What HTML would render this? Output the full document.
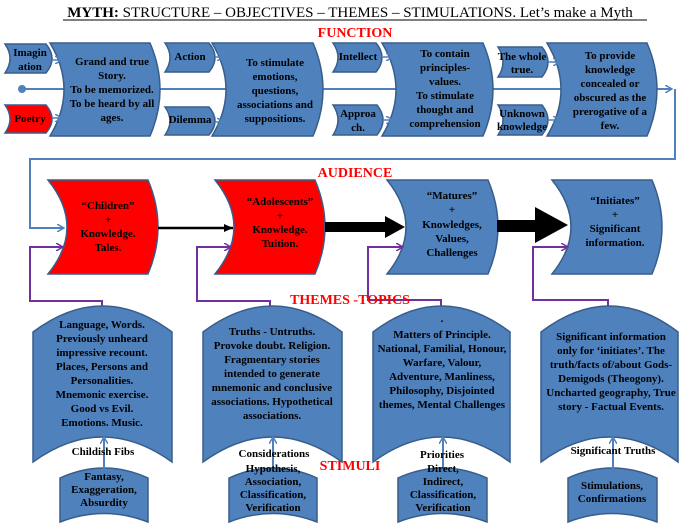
<!DOCTYPE html>
<html><head><meta charset="utf-8"><style>
html,body{margin:0;padding:0;background:#fff;}
svg{display:block;font-family:"Liberation Serif",serif;font-weight:bold;}
.b{fill:#4f81bd;stroke:#385d8a;stroke-width:1.5}
.r{fill:#ff0000;stroke:#385d8a;stroke-width:1.5}
text{font-size:11px;text-anchor:middle;fill:#000}
.red{fill:#ff0000;font-size:14px}
</style></head><body>
<svg width="700" height="525" viewBox="0 0 700 525">
<defs>
<marker id="ab" markerWidth="8" markerHeight="8" refX="7" refY="4" orient="auto" markerUnits="userSpaceOnUse"><path d="M0,0 L7,4 L0,8" fill="none" stroke="#4f81bd" stroke-width="1.5"/></marker>
<marker id="ap" markerWidth="8" markerHeight="8" refX="7" refY="4" orient="auto" markerUnits="userSpaceOnUse"><path d="M0,0 L7,4 L0,8" fill="none" stroke="#7030a0" stroke-width="1.5"/></marker>
<marker id="ak" markerWidth="10" markerHeight="10" refX="9" refY="5" orient="auto" markerUnits="userSpaceOnUse"><path d="M0,1 L9,5 L0,9 Z" fill="#000"/></marker>
</defs>
<text x="350" y="17" style="font-size:15px;font-weight:normal"><tspan font-weight="bold">MYTH:</tspan> STRUCTURE – OBJECTIVES – THEMES – STIMULATIONS. Let’s make a Myth</text>
<line x1="63" y1="20" x2="647" y2="20" stroke="#000" stroke-width="1"/>
<text class="red" x="355" y="37">FUNCTION</text>

<circle cx="22" cy="89" r="4" fill="#4f81bd"/>
<polyline points="22,89 672,89" fill="none" stroke="#4f81bd" stroke-width="2" marker-end="url(#ab)"/>
<polyline points="675,89 675,159 30,159 30,228 64,228" fill="none" stroke="#4f81bd" stroke-width="2" marker-end="url(#ab)"/>

<path class="b" d="M50,43 L150,43 Q170,89.5 150,136 L50,136 Q78,89.5 50,43Z"/>
<path class="b" d="M212,43 L313,43 Q333,89.5 313,136 L212,136 Q240,89.5 212,43Z"/>
<path class="b" d="M382,43 L483,43 Q503,89.5 483,136 L382,136 Q410,89.5 382,43Z"/>
<path class="b" d="M547,43 L647,43 Q667,89.5 647,136 L547,136 Q575,89.5 547,43Z"/>
<path class="b" d="M5,44 L46,44 Q58,58.5 46,73 L5,73 Q15,58.5 5,44Z"/>
<path class="r" d="M5,105 L46,105 Q58,119 46,133 L5,133 Q15,119 5,105Z"/>
<path class="b" d="M165,43 L209,43 Q221,57.5 209,72 L165,72 Q175,57.5 165,43Z"/>
<path class="b" d="M165,107 L209,107 Q221,121 209,135 L165,135 Q175,121 165,107Z"/>
<path class="b" d="M333,43 L376,43 Q388,57.5 376,72 L333,72 Q343,57.5 333,43Z"/>
<path class="b" d="M333,105 L377,105 Q389,120 377,135 L333,135 Q343,120 333,105Z"/>
<path class="b" d="M498,47 L542,47 Q554,62 542,77 L498,77 Q508,62 498,47Z"/>
<path class="b" d="M498,105 L542,105 Q554,120 542,135 L498,135 Q508,120 498,105Z"/>
<g stroke="#4f81bd" stroke-width="1.5" fill="none">
<line x1="52" y1="60" x2="62" y2="60" marker-end="url(#ab)"/>
<line x1="52" y1="118" x2="62" y2="118" marker-end="url(#ab)"/>
<line x1="215" y1="57" x2="224" y2="57" marker-end="url(#ab)"/>
<line x1="215" y1="122" x2="224" y2="122" marker-end="url(#ab)"/>
<line x1="383" y1="57" x2="393" y2="57" marker-end="url(#ab)"/>
<line x1="383" y1="120" x2="393" y2="120" marker-end="url(#ab)"/>
<line x1="548" y1="62" x2="560" y2="62" marker-end="url(#ab)"/>
<line x1="548" y1="120" x2="560" y2="120" marker-end="url(#ab)"/>
</g>
<text x="30" y="56">Imagin</text><text x="30" y="70">ation</text>
<text x="30" y="122">Poetry</text>
<text x="190" y="60">Action</text>
<text x="190" y="123">Dilemma</text>
<text x="358" y="60">Intellect</text>
<text x="358" y="117">Approa</text><text x="358" y="131">ch.</text>
<text x="522" y="60">The whole</text><text x="522" y="73">true.</text>
<text x="522" y="117">Unknown</text><text x="522" y="130">knowledge</text>

<text x="112" y="65">Grand and true</text><text x="112" y="79">Story.</text><text x="112" y="93">To be memorized.</text><text x="112" y="107">To be heard by all</text><text x="112" y="121">ages.</text>
<text x="275" y="66">To stimulate</text><text x="275" y="80">emotions,</text><text x="275" y="94">questions,</text><text x="275" y="108">associations and</text><text x="275" y="122">suppositions.</text>
<text x="445" y="57">To contain</text><text x="445" y="71">principles-</text><text x="445" y="85">values.</text><text x="445" y="99">To stimulate</text><text x="445" y="113">thought and</text><text x="445" y="127">comprehension</text>
<text x="610" y="59">To provide</text><text x="610" y="73">knowledge</text><text x="610" y="87">concealed or</text><text x="610" y="101">obscured as the</text><text x="610" y="115">prerogative of a</text><text x="610" y="129">few.</text>

<text class="red" x="355" y="177">AUDIENCE</text>
<path class="r" d="M48,180 L148,180 Q168,227 148,274 L48,274 Q86,227 48,180Z"/>
<path class="r" d="M215,180 L315,180 Q335,227 315,274 L215,274 Q253,227 215,180Z"/>
<path class="b" d="M387,180 L488,180 Q508,227 488,274 L387,274 Q425,227 387,180Z"/>
<path class="b" d="M552,180 L652,180 Q672,227 652,274 L552,274 Q590,227 552,180Z"/>
<line x1="158" y1="228" x2="233" y2="228" stroke="#000" stroke-width="2.5" marker-end="url(#ak)"/>
<path d="M325,222 L385,222 L385,216 L405,227 L385,238 L385,232 L325,232Z" fill="#000"/>
<path d="M497,220 L535,220 L535,207 L568,225 L535,243 L535,232 L497,232Z" fill="#000"/>
<text x="108" y="209">“Children”</text><text x="108" y="223">+</text><text x="108" y="237">Knowledge.</text><text x="108" y="251">Tales.</text>
<text x="280" y="205">“Adolescents”</text><text x="280" y="219">+</text><text x="280" y="233">Knowledge.</text><text x="280" y="247">Tuition.</text>
<text x="452" y="199">“Matures”</text><text x="452" y="213">+</text><text x="452" y="228">Knowledges,</text><text x="452" y="242">Values,</text><text x="452" y="256">Challenges</text>
<text x="615" y="204">“Initiates”</text><text x="615" y="218">+</text><text x="615" y="232">Significant</text><text x="615" y="246">information.</text>

<g stroke="#7030a0" stroke-width="2" fill="none">
<polyline points="102,306 102,301 30,301 30,247 63,247" marker-end="url(#ap)"/>
<polyline points="270,306 270,301 197,301 197,247 231,247" marker-end="url(#ap)"/>
<polyline points="441,306 441,300 368,300 368,247 403,247" marker-end="url(#ap)"/>
<polyline points="608,306 608,300 533,300 533,247 568,247" marker-end="url(#ap)"/>
</g>
<text class="red" x="350" y="304">THEMES -TOPICS</text>

<path class="b" d="M33,332 Q102.5,280 172,332 L172,462 Q102.5,412 33,462Z"/>
<path class="b" d="M203,332 Q272.5,280 342,332 L342,462 Q272.5,412 203,462Z"/>
<path class="b" d="M373,332 Q441.5,280 510,332 L510,462 Q441.5,412 373,462Z"/>
<path class="b" d="M541,332 Q609.5,280 678,332 L678,462 Q609.5,412 541,462Z"/>
<path class="b" d="M60,478 Q104,458 148,478 L148,522 Q104,505 60,522Z"/>
<path class="b" d="M229,478 Q273,458 317,478 L317,522 Q273,505 229,522Z"/>
<path class="b" d="M398,478 Q442,458 487,478 L487,522 Q442,505 398,522Z"/>
<path class="b" d="M568,478 Q612,458 657,478 L657,522 Q612,505 568,522Z"/>
<g stroke="#4f81bd" stroke-width="2" fill="none">
<line x1="104" y1="475" x2="104" y2="437" marker-end="url(#ab)"/>
<line x1="273" y1="475" x2="273" y2="437" marker-end="url(#ab)"/>
<line x1="443" y1="475" x2="443" y2="437" marker-end="url(#ab)"/>
<line x1="613" y1="475" x2="613" y2="437" marker-end="url(#ab)"/>
</g>
<text x="102" y="328">Language, Words.</text><text x="102" y="342">Previously unheard</text><text x="102" y="356">impressive recount.</text><text x="102" y="370">Places, Persons and</text><text x="102" y="384">Personalities.</text><text x="102" y="398">Mnemonic exercise.</text><text x="102" y="412">Good vs  Evil.</text><text x="102" y="426">Emotions. Music.</text>
<text x="272" y="335">Truths - Untruths.</text><text x="272" y="349">Provoke doubt. Religion.</text><text x="272" y="363">Fragmentary stories</text><text x="272" y="377">intended to generate</text><text x="272" y="391">mnemonic and conclusive</text><text x="272" y="405">associations. Hypothetical</text><text x="272" y="419">associations.</text>
<text x="442" y="322">.</text><text x="442" y="338">Matters of Principle.</text><text x="442" y="352">National, Familial, Honour,</text><text x="442" y="366">Warfare, Valour,</text><text x="442" y="380">Adventure, Manliness,</text><text x="442" y="394">Philosophy, Disjointed</text><text x="442" y="408">themes, Mental Challenges</text>
<text x="611" y="340">Significant information</text><text x="611" y="354">only for ‘initiates’. The</text><text x="611" y="368">truth/facts  of/about Gods-</text><text x="611" y="382">Demigods (Theogony).</text><text x="611" y="396">Uncharted geography, True</text><text x="611" y="410">story - Factual Events.</text>
<text x="103" y="455">Childish Fibs</text>
<text x="274" y="457">Considerations</text>
<text x="442" y="458">Priorities</text>
<text x="613" y="454">Significant Truths</text>
<text class="red" x="350" y="470">STIMULI</text>
<text x="104" y="480">Fantasy,</text><text x="104" y="493">Exaggeration,</text><text x="104" y="506">Absurdity</text>
<text x="273" y="472">Hypothesis,</text><text x="273" y="485">Association,</text><text x="273" y="498">Classification,</text><text x="273" y="511">Verification</text>
<text x="443" y="472">Direct,</text><text x="443" y="485">Indirect,</text><text x="443" y="498">Classification,</text><text x="443" y="511">Verification</text>
<text x="612" y="489">Stimulations,</text><text x="612" y="502">Confirmations</text>
</svg>
</body></html>
